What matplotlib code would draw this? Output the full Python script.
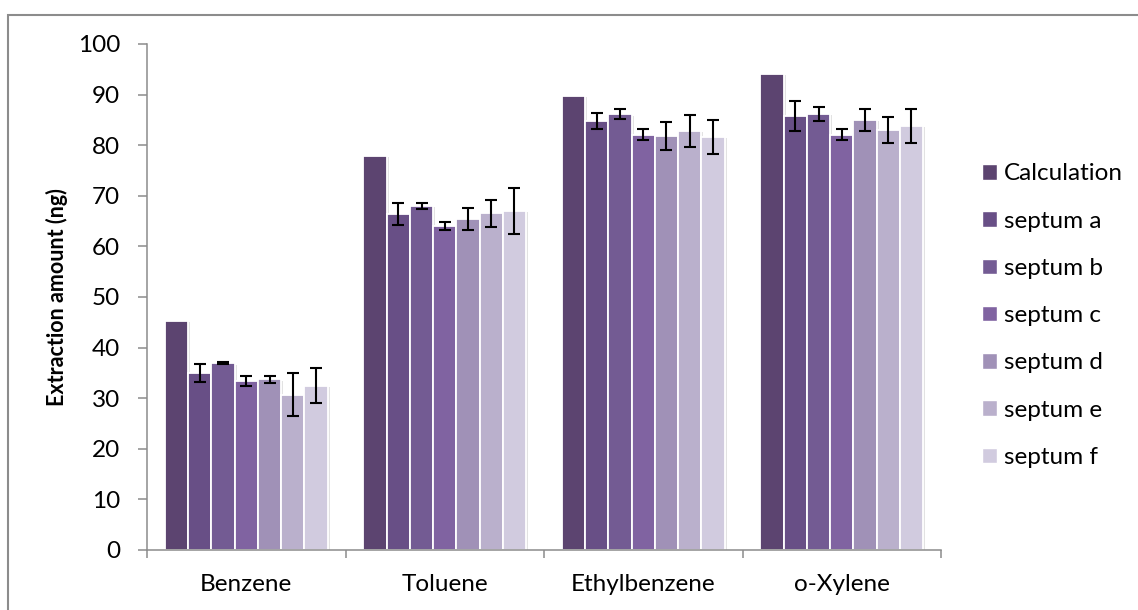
import numpy as np
import matplotlib
matplotlib.use("Agg")
import matplotlib.pyplot as plt
from matplotlib.patches import Patch
import matplotlib.patheffects as pe

plt.rcParams['font.family'] = ['Lato', 'DejaVu Sans']

compounds = ["Benzene", "Toluene", "Ethylbenzene", "o-Xylene"]
series = ["Calculation", "septum a", "septum b", "septum c",
          "septum d", "septum e", "septum f"]

calculation = [45.3, 77.9, 89.7, 94.1]
septum_a = [35.0, 66.4, 84.8, 85.8]
septum_b = [36.9, 68.0, 86.1, 86.2]
septum_c = [33.4, 64.1, 82.1, 82.1]
septum_d = [33.7, 65.4, 81.8, 85.0]
septum_e = [30.7, 66.5, 82.8, 83.0]
septum_f = [32.5, 67.0, 81.6, 83.8]

err_a = [1.8, 2.1, 1.6, 2.9]
err_b = [0.2, 0.6, 1.0, 1.35]
err_c = [1.0, 0.8, 1.0, 1.1]
err_d = [0.7, 2.2, 2.7, 2.2]
err_e = [4.2, 2.7, 3.2, 2.5]
err_f = [3.5, 4.5, 3.4, 3.3]

colors = ["#5c4470", "#684f86", "#735b93", "#8063a1",
          "#a091b7", "#bab0cc", "#d1cbdf"]

values = [calculation, septum_a, septum_b, septum_c, septum_d, septum_e, septum_f]
errors = [None, err_a, err_b, err_c, err_d, err_e, err_f]

fig = plt.figure(figsize=(11.38, 6.10), dpi=100)
ax = fig.add_axes([0.1292, 0.0984, 0.8269 - 0.1292, 0.9279 - 0.0984])

# outer chart frame (top and left edges visible)
fig.add_artist(plt.Rectangle((8 / 1138, -0.1), 1.2, (610 - 15) / 610 + 0.1,
                             transform=fig.transFigure, fill=False,
                             edgecolor="#8c8c8c", linewidth=1.5))

x = np.arange(len(compounds))
width = 0.117
n = len(series)
shadow = [pe.SimplePatchShadow(offset=(1.5, -1.0), shadow_rgbFace="#a0a0a0", alpha=0.3),
          pe.Normal()]
for i, (vals, errs, col) in enumerate(zip(values, errors, colors)):
    pos = x + (i - (n - 1) / 2) * width
    bars = ax.bar(pos, vals, width, color=col, edgecolor="white",
                  linewidth=1.3, zorder=2)
    for b in bars:
        b.set_path_effects(shadow)
    if errs is not None:
        ax.errorbar(pos, vals, yerr=errs, fmt="none", ecolor="black",
                    elinewidth=1.5, capsize=4, capthick=1.5, zorder=3)

ax.set_xlim(-0.5, len(compounds) - 0.5)
ax.set_ylim(0, 100)
ax.set_yticks(np.arange(0, 101, 10))
ax.set_xticks(x)
ax.set_xticklabels(compounds)
ax.set_xticks(np.arange(-0.5, len(compounds), 1.0), minor=True)

for side in ["top", "right"]:
    ax.spines[side].set_visible(False)
for side in ["left", "bottom"]:
    ax.spines[side].set_color("#8c8c8c")
    ax.spines[side].set_linewidth(1.1)

ax.tick_params(axis="y", direction="out", length=6.5, width=1.1, color="#8c8c8c",
               labelsize=17.5, pad=13)
ax.tick_params(axis="x", which="major", length=0, labelsize=17.5, pad=17)
ax.tick_params(axis="x", which="minor", direction="out", length=6, width=1.1,
               color="#8c8c8c")

ax.set_ylabel("Extraction amount (ng)", fontsize=15.5, fontweight="bold")
ax.yaxis.set_label_coords(-0.0995, 0.5)

handles = [Patch(facecolor=c, edgecolor="white", label=s) for c, s in zip(colors, series)]
leg = ax.legend(handles=handles, loc="center left", bbox_to_anchor=(1.024, 0.463),
                frameon=False, fontsize=17.5, handlelength=0.6, handleheight=0.6,
                labelspacing=1.08, handletextpad=0.3)

fig.savefig("out.png", dpi=100)
